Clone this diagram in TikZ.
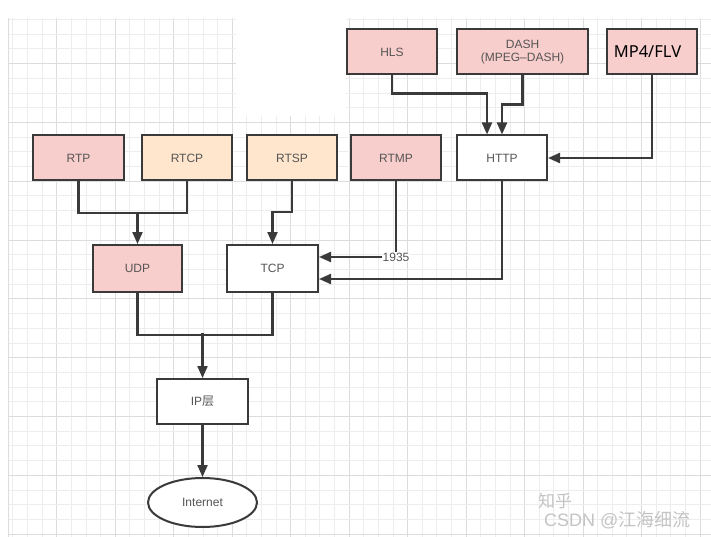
\documentclass[tikz,border=0pt]{standalone}
\usepackage{fontspec}
\setmainfont{Liberation Sans}
\newfontfamily\cjk{Noto Sans CJK SC}
\newfontfamily\mpfont{Noto Sans}
\usetikzlibrary{arrows.meta,shapes.geometric}
\definecolor{pinkfill}{HTML}{F8CECC}
\definecolor{peachfill}{HTML}{FFE6CC}
\definecolor{edgecol}{HTML}{3A3A3A}
\definecolor{txtcol}{HTML}{555555}
\definecolor{gridminor}{HTML}{EDEDED}
\definecolor{gridmajor}{HTML}{DCDCDC}
\definecolor{wmcol}{HTML}{C4C4C4}
\tikzset{
  box/.style={draw=edgecol, line width=2pt, rectangle, inner sep=0pt,
    minimum width=90pt, minimum height=45pt, text=txtcol,
    font=\fontsize{12}{14}\selectfont, align=center},
  pinkbox/.style={box, fill=pinkfill},
  peachbox/.style={box, fill=peachfill},
  whitebox/.style={box, fill=white},
  conn/.style={draw=edgecol, line width=2.2pt},
  arr/.style={conn, -{Triangle[length=12pt,width=10pt]}},
}
\begin{document}
\begin{tikzpicture}[x=1pt,y=-1pt]
\useasboundingbox (0,0) rectangle (711,537);
\fill[white] (0,0) rectangle (711,537);
% grid
\begin{scope}
\clip (8,18) rectangle (711,537);
\foreach \k in {-3,...,44} {
  \pgfmathsetmacro{\xx}{56.7+14.62*\k}
  \pgfmathtruncatemacro{\mm}{mod(\k+40,4)}
  \ifnum\mm=0
    \draw[gridmajor, line width=0.9pt] (\xx,18) -- (\xx,537);
  \else
    \draw[gridminor, line width=0.8pt] (\xx,18) -- (\xx,537);
  \fi
}
\foreach \k in {-3,...,32} {
  \pgfmathsetmacro{\yy}{63.6+14.7*\k}
  \pgfmathtruncatemacro{\mm}{mod(\k+40,4)}
  \ifnum\mm=0
    \draw[gridmajor, line width=0.9pt] (8,\yy) -- (711,\yy);
  \else
    \draw[gridminor, line width=0.8pt] (8,\yy) -- (711,\yy);
  \fi
}
\draw[gridmajor, line width=0.9pt] (8,18) -- (8,537);
\end{scope}
\fill[white] (236,14) rectangle (346,116);
% nodes
\node[pinkbox] (hls) at (392,52) {HLS};
\node[pinkbox, minimum width=131pt] (dash) at (522.5,52) {DASH\\[-1pt](MPEG--DASH)};
\node[pinkbox] (mp4) at (652,52) {};
\node[text=black, font=\mpfont\fontsize{16.5}{18}\selectfont, inner sep=0pt] (mp4t) at (647.5,52) {MP4/FLV};
\node[pinkbox, minimum width=91pt] (rtp) at (78.5,158) {RTP};
\node[peachbox] (rtcp) at (187,158) {RTCP};
\node[peachbox] (rtsp) at (292,158) {RTSP};
\node[pinkbox] (rtmp) at (396,158) {RTMP};
\node[whitebox] (http) at (502,158) {HTTP};
\node[pinkbox, minimum width=89pt, minimum height=47pt] (udp) at (137.5,268.5) {UDP};
\node[whitebox, minimum width=91pt, minimum height=47pt] (tcp) at (272.5,268.5) {TCP};
\node[whitebox, minimum width=91pt] (ip) at (202.5,401.5) {IP{\cjk 层}};
\node[draw=edgecol, line width=2pt, ellipse, fill=white, minimum width=109pt,
  minimum height=49pt, inner sep=0pt, text=txtcol, font=\fontsize{12}{14}\selectfont] (inet) at (202.5,502.5) {Internet};
% connectors
\draw[arr] (hls.south) |- ([xshift=-15pt,yshift=41pt]http.north) -- ([xshift=-15pt]http.north);
\draw[arr] (dash.south) |- ([yshift=30pt]http.north) -- (http.north);
\draw[arr] (mp4.south) |- (http.east);
\draw[conn] (rtp.south) -- ++(0,31.5) -| (rtcp.south);
\draw[arr] ([yshift=32pt]udp.north) -- (udp.north);
\draw[arr] (rtsp.south) |- ([yshift=32pt]tcp.north) -- (tcp.north);
\draw[arr] (rtmp.south) |- ([yshift=11.5pt]tcp.east)
  node[pos=0.5, fill=white, inner sep=0.5pt, text=txtcol, font=\fontsize{12}{14}\selectfont] (port) {1935};
\draw[arr] (http.south) |- ([yshift=-10.5pt]tcp.east);
\draw[conn] (udp.south) -- ++(0,42) -| (tcp.south);
\draw[arr] ([yshift=45pt]ip.north) -- (ip.north);
\draw[arr] (ip.south) -- (inet.north);
% watermark
\node[text=wmcol, font=\cjk\fontsize{17}{19}\selectfont, inner sep=0pt, anchor=west] (wm1) at (538,501) {知乎};
\node[text=wmcol, font=\fontsize{18}{20}\selectfont, inner sep=0pt, anchor=west] (wm2) at (544,520) {CSDN @{\cjk 江海细流}};
\end{tikzpicture}
\end{document}
